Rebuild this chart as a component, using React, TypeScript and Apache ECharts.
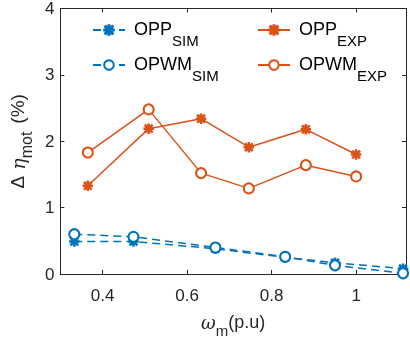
import React, { useEffect, useRef } from "react";
import * as echarts from "echarts";

const xTicks = [0.4, 0.6, 0.8, 1];
const yTicks = [0, 1, 2, 3, 4];

const xSim = [0.333, 0.473, 0.667, 0.832, 0.95, 1.111];
const oppSim = [0.49, 0.49, 0.38, 0.25, 0.17, 0.08];
const opwmSim = [0.6, 0.56, 0.4, 0.26, 0.13, 0.01];

const xExp = [0.365, 0.509, 0.633, 0.746, 0.881, 1.0];
const oppExp = [1.33, 2.19, 2.34, 1.91, 2.18, 1.8];
const opwmExp = [1.83, 2.48, 1.52, 1.29, 1.64, 1.47];

const seriesNames = ["OPP_SIM", "OPP_EXP", "OPWM_SIM", "OPWM_EXP"];

const BLUE = "#0072BD";
const ORANGE = "#D95319";
const AXIS = "#262626";
const FONT = "'Liberation Sans', Arial, sans-serif";

const STAR =
  "path://M8.8 0H11.2V20H8.8Z M0 8.8H20V11.2H0Z M1.6 3.3L3.3 1.6L18.4 16.7L16.7 18.4Z M16.7 1.6L18.4 3.3L3.3 18.4L1.6 16.7Z";

const zip = (xs: number[], ys: number[]) => xs.map((x, i) => [x, ys[i]]);

export default function App() {
  const ref = useRef<HTMLDivElement>(null);
  useEffect(() => {
    if (!ref.current) return;
    const chart = echarts.init(ref.current, null, { renderer: "svg" });
    const legendRich = {
      a: { fontSize: 18, color: "#000", fontFamily: FONT, lineHeight: 20, verticalAlign: "top", padding: [0, 0, 0, 4] },
      s: { fontSize: 15, color: "#000", fontFamily: FONT, lineHeight: 15, padding: [13, 0, 0, 0], verticalAlign: "top" },
    };
    const xNameRich = {
      g: { fontSize: 18, color: AXIS, fontFamily: "'DejaVu Serif', serif", fontStyle: "italic", verticalAlign: "top", lineHeight: 19 },
      s: { fontSize: 15, color: AXIS, fontFamily: FONT, verticalAlign: "top", lineHeight: 15, padding: [10, 0, 0, 0] },
      n: { fontSize: 18, color: AXIS, fontFamily: FONT, verticalAlign: "top", lineHeight: 19 },
    };
    const yNameRich = {
      d: { fontSize: 19, color: AXIS, fontFamily: FONT, verticalAlign: "top", lineHeight: 20, padding: [0, 6, 0, 0] },
      g: { fontSize: 19, color: AXIS, fontFamily: "'DejaVu Serif', serif", fontStyle: "italic", verticalAlign: "top", lineHeight: 20 },
      s: { fontSize: 16, color: AXIS, fontFamily: FONT, verticalAlign: "top", lineHeight: 16, padding: [10, 8, 0, 0] },
      n: { fontSize: 19, color: AXIS, fontFamily: FONT, verticalAlign: "top", lineHeight: 20 },
    };
    const fmt = (name: string) => {
      const [a, b] = name.split("_");
      return `{a|${a}}{s|${b}}`;
    };
    const mk = (
      name: string,
      xs: number[],
      ys: number[],
      color: string,
      symbol: string,
      size: number,
      dashed: boolean
    ) => ({
      name,
      type: "line",
      data: zip(xs, ys),
      symbol,
      symbolSize: size,
      showAllSymbol: true,
      lineStyle: { color, width: 1.5, type: dashed ? [8, 5] : "solid" },
      itemStyle: { color, borderColor: color, borderWidth: 1.5 },
      emphasis: { disabled: true },
    });
    const legendBase = {
      orient: "vertical",
      top: 15,
      itemWidth: 32,
      itemHeight: 12,
      itemGap: 7,
      formatter: fmt,
      textStyle: { rich: legendRich },
      selectedMode: false,
    };
    chart.setOption({
      animation: false,
      grid: { left: 52, right: 4, top: 7, bottom: 66, show: false },
      legend: [
        { ...legendBase, data: ["OPP_SIM", "OPWM_SIM"], left: 87 },
        { ...legendBase, data: ["OPP_EXP", "OPWM_EXP"], left: 252 },
      ],
      xAxis: [
        {
          type: "value",
          min: 0.3,
          max: 1.118,
          axisLine: { show: true, onZero: false, lineStyle: { color: AXIS, width: 1 } },
          axisTick: { show: true, inside: true, length: 4, customValues: xTicks, lineStyle: { color: AXIS } },
          axisLabel: {
            customValues: xTicks,
            formatter: (v: number) => String(v),
            color: AXIS,
            fontSize: 17,
            fontFamily: FONT,
            margin: 13,
          },
          splitLine: { show: false },
          name: "{g|ω}{s|m}{n|(p.u)}",
          nameLocation: "middle",
          nameGap: 39,
          nameTextStyle: { rich: xNameRich },
        },
        {
          type: "value",
          position: "top",
          min: 0.3,
          max: 1.118,
          axisLine: { show: true, onZero: false, lineStyle: { color: AXIS, width: 1 } },
          axisTick: { show: true, inside: true, length: 4, customValues: xTicks, lineStyle: { color: AXIS } },
          axisLabel: { show: false },
          splitLine: { show: false },
        },
      ],
      yAxis: [
        {
          type: "value",
          min: 0,
          max: 4,
          interval: 1,
          axisLine: { show: true, onZero: false, lineStyle: { color: AXIS, width: 1 } },
          axisTick: { show: true, inside: true, length: 4, lineStyle: { color: AXIS } },
          axisLabel: {
            formatter: (v: number) => (yTicks.includes(v) ? String(v) : ""),
            color: AXIS,
            fontSize: 17,
            fontFamily: FONT,
            margin: 6,
          },
          splitLine: { show: false },
          name: "{d|Δ}{g|η}{s|mot}{n|(%)}",
          nameLocation: "middle",
          nameGap: 31,
          nameRotate: 90,
          nameTextStyle: { rich: yNameRich },
        },
        {
          type: "value",
          position: "right",
          min: 0,
          max: 4,
          interval: 1,
          axisLine: { show: true, onZero: false, lineStyle: { color: AXIS, width: 1 } },
          axisTick: { show: true, inside: true, length: 4, lineStyle: { color: AXIS } },
          axisLabel: { show: false },
          splitLine: { show: false },
        },
      ],
      series: [
        mk(seriesNames[0], xSim, oppSim, BLUE, STAR, 9, true),
        mk(seriesNames[2], xSim, opwmSim, BLUE, "emptyCircle", 10, true),
        mk(seriesNames[1], xExp, oppExp, ORANGE, STAR, 9, false),
        mk(seriesNames[3], xExp, opwmExp, ORANGE, "emptyCircle", 10, false),
      ],
    });
    return () => chart.dispose();
  }, []);
  return (
    <div
      ref={ref}
      style={{ position: "fixed", left: 0, top: 0, width: 410, height: 343 }}
    />
  );
}
